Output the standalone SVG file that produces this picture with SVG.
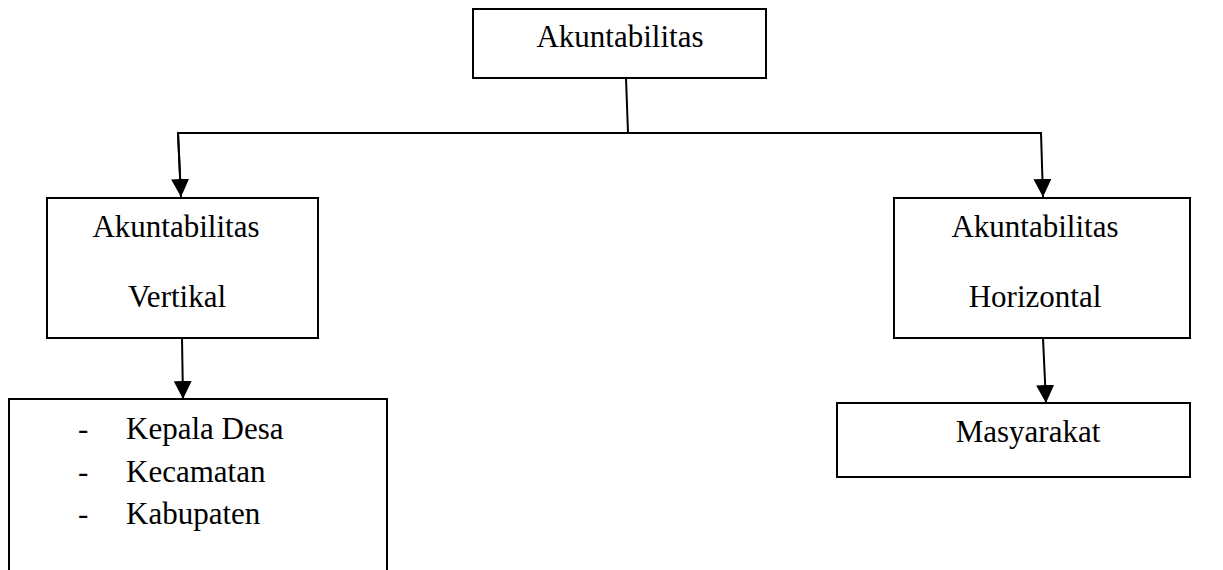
<svg xmlns="http://www.w3.org/2000/svg" width="1223" height="570" viewBox="0 0 1223 570">
<style>
.box{fill:#fff;stroke:#000;stroke-width:2}
.t{font-family:"Liberation Serif","Times New Roman",serif;font-size:31px;fill:#000}
.c{text-anchor:middle}
.ln{fill:none;stroke:#000;stroke-width:2}
</style>
<defs>
<marker id="ah" markerUnits="userSpaceOnUse" markerWidth="18" markerHeight="18" viewBox="0 0 16 16" refX="16" refY="8" orient="auto">
<path d="M0,0 L16,8 L0,16 Z" fill="#000"/>
</marker>
</defs>
<rect width="1223" height="570" fill="#fff"/>
<g id="connectors">
<polyline class="ln" points="626,78 628,133"/>
<polyline class="ln" points="181,197 178,133 1041,133 1043,197" marker-end="url(#ah)" marker-start="none"/>
<line class="ln" x1="178" y1="133" x2="181" y2="197" marker-end="url(#ah)"/>
<line class="ln" x1="182" y1="338" x2="183" y2="399" marker-end="url(#ah)"/>
<line class="ln" x1="1043" y1="338" x2="1046" y2="403" marker-end="url(#ah)"/>
</g>
<g id="akuntabilitas">
<rect class="box" x="473" y="9" width="293" height="69"/>
<text class="t c" x="620" y="47">Akuntabilitas</text>
</g>
<g id="vertikal">
<rect class="box" x="47" y="198" width="271" height="140"/>
<text class="t c" x="176" y="237">Akuntabilitas</text>
<text class="t c" x="177" y="307">Vertikal</text>
</g>
<g id="horizontal">
<rect class="box" x="894" y="198" width="296" height="140"/>
<text class="t c" x="1035" y="237">Akuntabilitas</text>
<text class="t c" x="1035" y="307">Horizontal</text>
</g>
<g id="list">
<path class="ln" d="M9,572 V399 H387 V572"/>
<text class="t" x="78" y="439">-</text>
<text class="t" x="126" y="439">Kepala Desa</text>
<text class="t" x="78" y="482">-</text>
<text class="t" x="126" y="482">Kecamatan</text>
<text class="t" x="78" y="524">-</text>
<text class="t" x="126" y="524">Kabupaten</text>
</g>
<g id="masyarakat">
<rect class="box" x="837" y="403" width="353" height="74"/>
<text class="t c" x="1028" y="442">Masyarakat</text>
</g>
</svg>
